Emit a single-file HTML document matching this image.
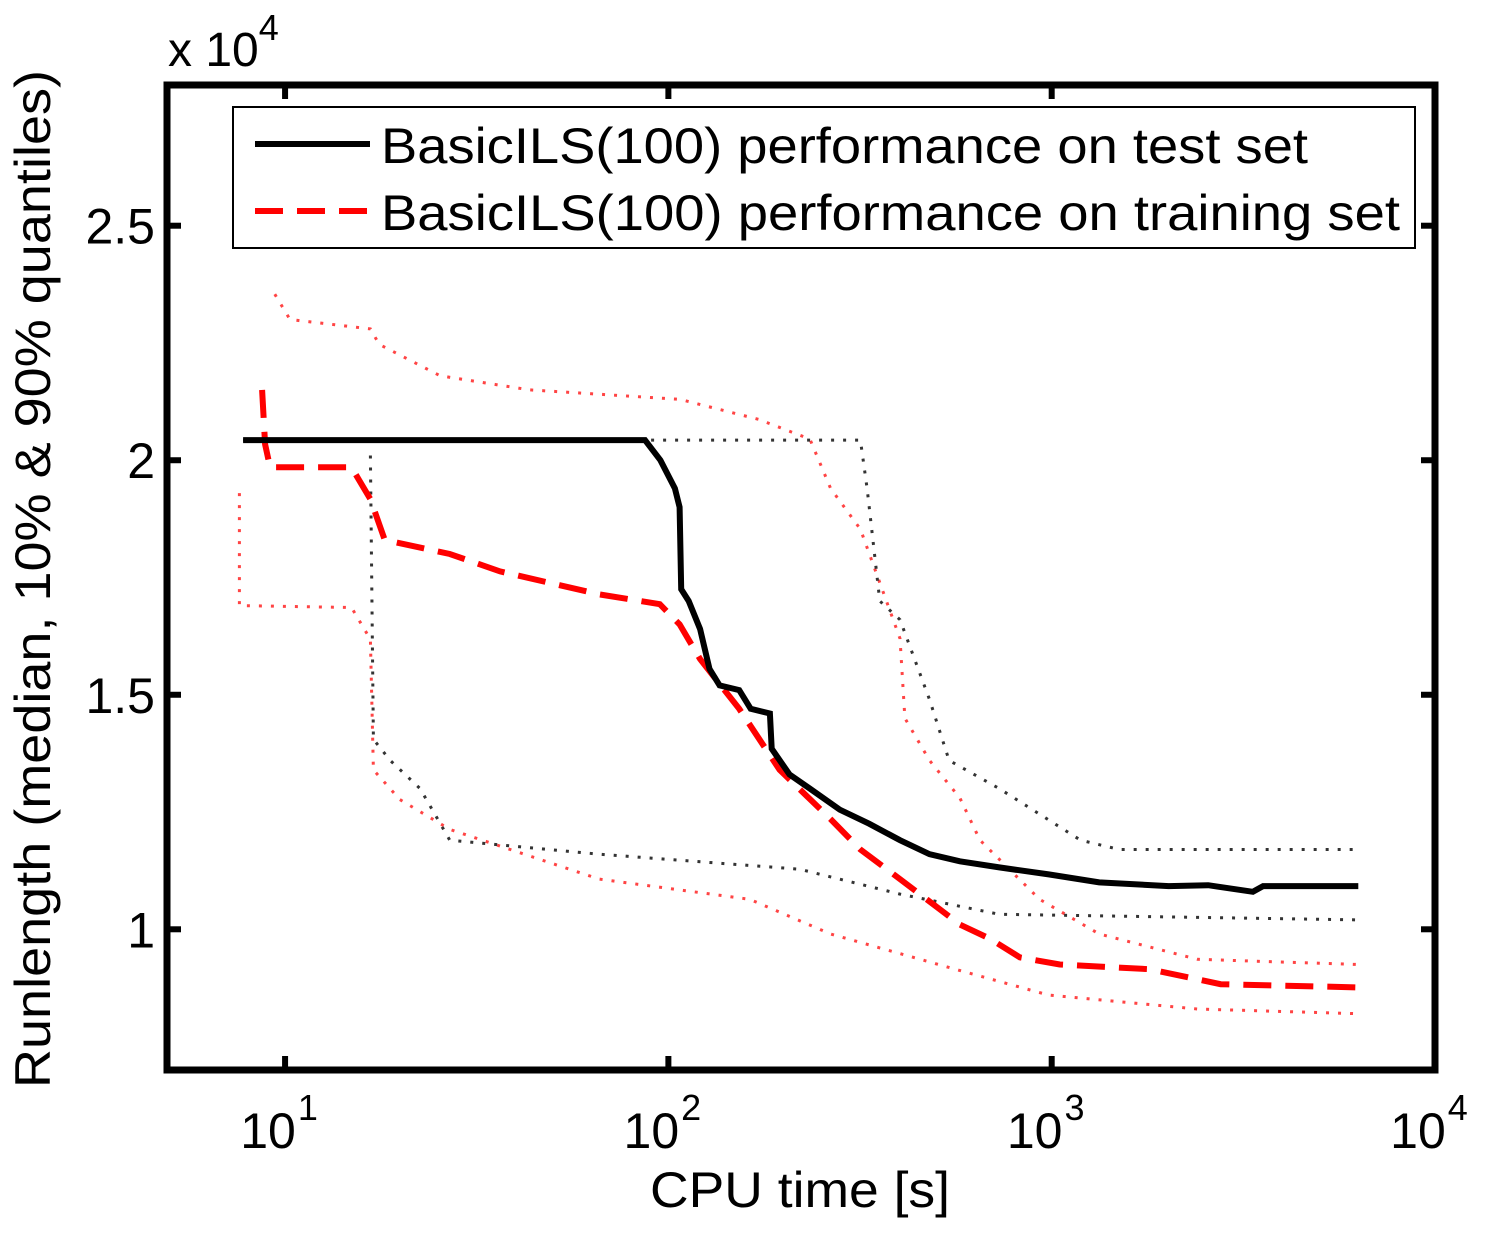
<!DOCTYPE html>
<html><head><meta charset="utf-8"><style>
body{margin:0;background:#fff;}
svg{display:block;font-family:"Liberation Sans",Arial,sans-serif;}
</style></head><body>
<svg id="chart" width="1497" height="1237" viewBox="0 0 1497 1237">
<g id="plot"></g>
<rect x="167" y="85" width="1268" height="985" fill="none" stroke="#000" stroke-width="7"/>
<g id="ticks"></g>
<text x="168" y="66" font-size="48">x 10<tspan dy="-26" font-size="36">4</tspan></text>
<text transform="translate(50,579) rotate(-90)" text-anchor="middle" font-size="50" textLength="1018" lengthAdjust="spacingAndGlyphs">Runlength (median, 10% &amp; 90% quantiles)</text>
<text x="800" y="1207" text-anchor="middle" font-size="50" textLength="300" lengthAdjust="spacingAndGlyphs">CPU time [s]</text>
<g>
<rect x="233" y="107" width="1182" height="141" fill="#fff" stroke="#000" stroke-width="2"/>
<line x1="255" y1="144" x2="370" y2="144" stroke="#000" stroke-width="6"/>
<text x="381" y="163" font-size="50" textLength="927" lengthAdjust="spacingAndGlyphs">BasicILS(100) performance on test set</text>
<line x1="255" y1="211" x2="370" y2="211" stroke="#f00" stroke-width="6" stroke-dasharray="28,14"/>
<text x="381" y="230" font-size="50" textLength="1019" lengthAdjust="spacingAndGlyphs">BasicILS(100) performance on training set</text>
</g>
</svg>
<script>
const xTickVals=[10,100,1000,10000];
const xTickExps=["1","2","3","4"];
const yTickVals=[1,1.5,2,2.5];
const yTickLabels=["1","1.5","2","2.5"];
const testMedX=[7.77,86.9,95.3,104,107,108,113,121,128,136,153,164,184,186,207,234,280,334,402,480,576,730,982,1330,2020,2560,3350,3560,6310];
const testMedY=[2.043,2.043,2.0,1.94,1.9,1.725,1.70,1.64,1.555,1.52,1.51,1.47,1.46,1.385,1.33,1.30,1.255,1.225,1.19,1.16,1.145,1.132,1.117,1.10,1.092,1.094,1.08,1.092,1.092];
const trainMedX=[8.71,8.87,9.14,14.9,16.7,18.2,26.9,36.4,66.1,95,107,121,153,195,265,317,402,510,576,690,826,1050,1800,2760,6310];
const trainMedY=[2.15,2.034,1.985,1.985,1.917,1.83,1.80,1.763,1.714,1.693,1.65,1.576,1.47,1.34,1.235,1.17,1.107,1.043,1.01,0.98,0.94,0.925,0.915,0.883,0.876];
const testHiX=[7.77,317,330,356,402,480,540,730,1190,1500,6310];
const testHiY=[2.043,2.043,1.94,1.70,1.66,1.49,1.36,1.30,1.19,1.17,1.17];
const testLoX=[16.7,17,18.8,22.5,26.9,66,220,402,730,6310];
const testLoY=[2.01,1.405,1.36,1.30,1.19,1.16,1.128,1.075,1.032,1.02];
const trainHiX=[9.4,10.3,16.7,17.6,25.4,43.5,107,172,234,265,317,402,414,480,576,650,930,1330,2400,6310];
const trainHiY=[2.354,2.30,2.28,2.247,2.18,2.15,2.13,2.087,2.045,1.94,1.853,1.62,1.45,1.36,1.28,1.19,1.064,0.99,0.936,0.925];
const trainLoX=[7.6,7.6,14.9,16.7,17,19.9,26.9,66,163,265,560,980,2400,6310];
const trainLoY=[1.93,1.69,1.686,1.618,1.34,1.277,1.213,1.107,1.064,0.99,0.915,0.86,0.83,0.82];

const NS="http://www.w3.org/2000/svg";
const L=167,R=1435,T=85,B=1070,XMIN=Math.log10(4.92),XMAX=4,YMIN=0.7,YMAX=2.8;
const sx=v=>L+(Math.log10(v)-XMIN)/(XMAX-XMIN)*(R-L);
const sy=v=>B-(v-YMIN)/(YMAX-YMIN)*(B-T);
const plot=document.getElementById('plot'),ticks=document.getElementById('ticks');
function mk(tag,attrs,parent){const e=document.createElementNS(NS,tag);for(const k in attrs)e.setAttribute(k,attrs[k]);parent.appendChild(e);return e;}
function series(xs,ys,color,w,dash,name){
  const d=xs.map((x,i)=>(i?'L':'M')+sx(x).toFixed(1)+','+sy(ys[i]).toFixed(1)).join(' ');
  const p=mk('path',{d:d,fill:'none',stroke:color,'stroke-width':w,'stroke-dasharray':dash},plot);
  
  
}
series(trainHiX,trainHiY,'#f44','3','3,9','training-90-quantile');
series(trainLoX,trainLoY,'#f44','3','3,9','training-10-quantile');
series(testHiX,testHiY,'#333','3','3,9','test-90-quantile');
series(testLoX,testLoY,'#333','3','3,9','test-10-quantile');
series(trainMedX,trainMedY,'#f00','6','28,14','training-median');
series(testMedX,testMedY,'#000','6','none','test-median');
xTickVals.forEach((v,i)=>{
  const x=sx(v);
  const t1=mk('line',{x1:x,y1:B,x2:x,y2:B-14,stroke:'#000','stroke-width':6},ticks);
  
  
  const t2=mk('line',{x1:x,y1:T,x2:x,y2:T+14,stroke:'#000','stroke-width':6},ticks);
  
  
  const tx=mk('text',{x:x-6,y:1148,'font-size':50,'text-anchor':'middle'},ticks);
  
  
  tx.textContent='10';
  const sup=mk('tspan',{dx:2,dy:-28,'font-size':36},tx);
  sup.textContent=xTickExps[i];
});
yTickVals.forEach((v,i)=>{
  const y=sy(v);
  const t1=mk('line',{x1:L,y1:y,x2:L+14,y2:y,stroke:'#000','stroke-width':6},ticks);
  
  
  const t2=mk('line',{x1:R,y1:y,x2:R-14,y2:y,stroke:'#000','stroke-width':6},ticks);
  
  
  const tx=mk('text',{x:155,y:y+18,'font-size':50,'text-anchor':'end'},ticks);
  
  
  tx.textContent=yTickLabels[i];
});
</script>
</body></html>
